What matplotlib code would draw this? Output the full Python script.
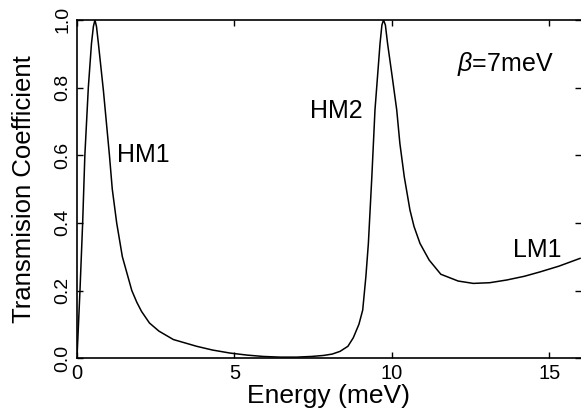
import matplotlib
matplotlib.use("Agg")
import matplotlib.pyplot as plt

plt.rcParams['font.family'] = ['Liberation Sans', 'DejaVu Sans']
plt.rcParams['mathtext.fontset'] = 'custom'
plt.rcParams['mathtext.it'] = 'Liberation Sans:italic'

# values
energy = [0.0, 0.095, 0.18, 0.25, 0.36, 0.46, 0.52, 0.57, 0.62, 0.68, 0.84, 1.03,
          1.12, 1.26, 1.44, 1.74, 1.9, 2.05, 2.3, 2.6, 3.06, 3.8, 4.3, 4.86, 5.4, 5.91,
          6.45, 6.97, 7.45, 7.83, 8.1, 8.35, 8.6, 8.77, 8.95, 9.07, 9.17, 9.25, 9.36, 9.46,
          9.62, 9.68, 9.73, 9.79, 9.86, 10.01, 10.15, 10.25, 10.39, 10.57, 10.7,
          10.89, 11.18, 11.55, 12.1, 12.58, 13.1, 13.64, 14.2, 14.7, 15.3, 15.97]
trans = [0.0, 0.2, 0.4, 0.6, 0.8, 0.93, 0.98, 1.0, 0.98, 0.93, 0.79, 0.6,
         0.5, 0.4, 0.3, 0.2, 0.165, 0.138, 0.104, 0.08, 0.055, 0.035, 0.024, 0.015, 0.009, 0.005,
         0.003, 0.003, 0.005, 0.008, 0.012, 0.02, 0.035, 0.06, 0.1, 0.142, 0.24, 0.339, 0.536, 0.734,
         0.93, 0.985, 1.0, 0.985, 0.93, 0.83, 0.734, 0.635, 0.536, 0.438, 0.389,
         0.339, 0.29, 0.248, 0.228, 0.221, 0.223, 0.231, 0.242, 0.255, 0.272, 0.295]

xticks = [0, 5, 10, 15]
yticks = [0.0, 0.2, 0.4, 0.6, 0.8, 1.0]

fig = plt.figure(figsize=(5.81, 4.15), dpi=100)
ax = fig.add_axes([0.1325, 0.137, 0.8675, 0.815])
ax.plot(energy, trans, color='black', lw=1.1)

ax.set_xlim(0, 16)
ax.set_ylim(0, 1.0)
ax.set_xticks(xticks)
ax.set_yticks(yticks)
ax.set_xticklabels([str(t) for t in xticks], fontsize=14.5)
ax.set_yticklabels(["%.1f" % t for t in yticks], fontsize=14, rotation=90, va='center')
ax.tick_params(direction='in', length=4, width=1, top=True, right=True, pad=4)
ax.spines['right'].set_visible(False)
for s in ['left', 'bottom', 'top']:
    ax.spines[s].set_linewidth(1.2)

ax.set_xlabel("Energy (meV)", fontsize=19, labelpad=1)
ax.set_ylabel("Transmision Coefficient", fontsize=18.5, labelpad=13)

ax.text(1.27, 0.6, "HM1", fontsize=18, va='center')
ax.text(7.4, 0.73, "HM2", fontsize=18, va='center')
ax.text(12.05, 0.87, r"$\mathit{\beta}$=7meV", fontsize=18, va='center')
ax.text(13.85, 0.32, "LM1", fontsize=18, va='center')

fig.savefig("out.png", dpi=100)
